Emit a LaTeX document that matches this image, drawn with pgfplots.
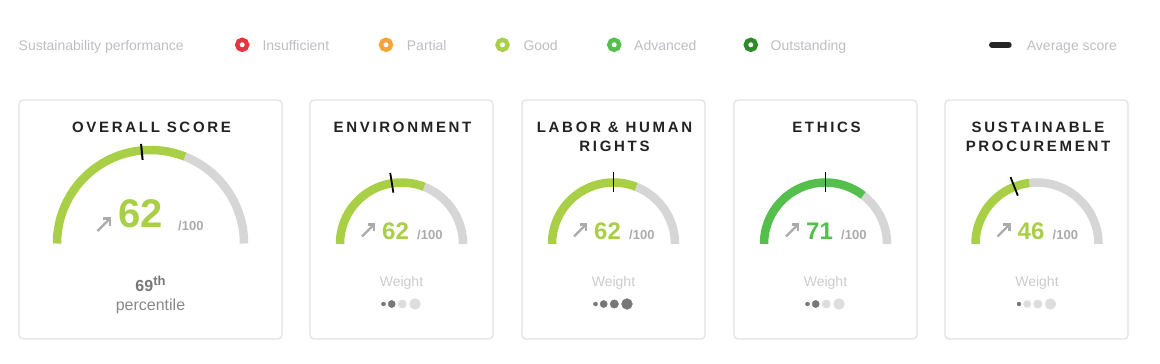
\documentclass[border=0pt]{standalone}
\usepackage{pgfplots}
\pgfplotsset{compat=1.18}
\usepackage{fontspec}
\setmainfont{Liberation Sans}
\newfontfamily\titlefont[LetterSpace=18]{Liberation Sans}
\definecolor{cRed}{HTML}{E8343E}
\definecolor{cOrange}{HTML}{F7A336}
\definecolor{cGood}{HTML}{A8CF45}
\definecolor{cAdv}{HTML}{55BF4E}
\definecolor{cOut}{HTML}{2F8A2A}
\definecolor{cArc}{HTML}{D6D6D6}
\definecolor{cLeg}{HTML}{BDBEC2}
\definecolor{cTitle}{HTML}{222222}
\definecolor{cArrow}{HTML}{ABABAB}
\definecolor{cBorder}{HTML}{E2E2E2}
\definecolor{cDark}{HTML}{777777}
\definecolor{cLight}{HTML}{DDDDDD}
\definecolor{cWeight}{HTML}{CBCBCB}
\definecolor{cPerc}{HTML}{888888}
\newcommand{\fs}[1]{\fontsize{#1}{#1}\selectfont}
\pgfplotsset{gauge/.style={x=1pt,y=1pt,hide axis,anchor=origin,clip=false,
  xmin=-70,xmax=70,ymin=-65,ymax=75},
  arc/.style={line width=8.5pt,line join=round,samples=60,mark=none}}
% weight dots: colours of the four dots
\newcommand{\wdots}[4]{%
 \addplot[only marks,mark=*,color=#1,mark size=2] coordinates {(-18,-60)};
 \addplot[only marks,mark=*,color=#2,mark size=3.6] coordinates {(-9.8,-60)};
 \addplot[only marks,mark=*,color=#3,mark size=4.2] coordinates {(0.8,-60)};
 \addplot[only marks,mark=*,color=#4,mark size=5.4] coordinates {(13.5,-60)};}
% arrow glyph drawn at gauge
\newcommand{\uparrowat}[4]{% x0,y0 (bottom-left), size, head
 \draw[cArrow,line width=2.2pt] (#1,#2) -- ++(#3,-#3);
 \draw[cArrow,line width=2.2pt,line join=miter] (#1+#3-#4,#2-#3) -- (#1+#3,#2-#3) -- (#1+#3,#2-#3+#4);}
\begin{document}
\begin{tikzpicture}[x=1pt,y=-1pt]
\useasboundingbox (0,0) rectangle (1160,364);
\coordinate (G0) at (150.5,243.5);
\coordinate (G1) at (401.5,244);
\coordinate (G2) at (613.5,244);
\coordinate (G3) at (825.5,244);
\coordinate (G4) at (1037,244);
% ---------- legend ----------
\node[anchor=base west,text=cLeg,inner sep=0] at (18.5,50.7) {\fs{14}Sustainability performance};
\draw[cRed,line width=4.4pt] (242.2,44.8) circle[radius=5];
\node[anchor=base west,text=cLeg,inner sep=0] at (262.3,50.7) {\fs{14}Insufficient};
\draw[cOrange,line width=4.4pt] (386,44.8) circle[radius=5];
\node[anchor=base west,text=cLeg,inner sep=0] at (406.7,50.7) {\fs{14}Partial};
\draw[cGood,line width=4.4pt] (502.5,44.8) circle[radius=5];
\node[anchor=base west,text=cLeg,inner sep=0] at (523.3,50.7) {\fs{14}Good};
\draw[cAdv,line width=4.4pt] (614.2,44.8) circle[radius=5];
\node[anchor=base west,text=cLeg,inner sep=0] at (634,50.7) {\fs{14}Advanced};
\draw[cOut,line width=4.4pt] (750.8,44.8) circle[radius=5];
\node[anchor=base west,text=cLeg,inner sep=0] at (770.5,50.7) {\fs{14}Outstanding};
\draw[black!85,line width=6pt,line cap=round] (992,44.7) -- (1008.7,44.7);
\node[anchor=base west,text=cLeg,inner sep=0] at (1026.7,50.7) {\fs{14}Average score};
% ---------- cards ----------
\foreach \a/\b in {19/282,310/493,522/705,734/917,945/1128}
  \draw[cBorder,line width=1.3pt,rounded corners=4pt] (\a,100) rectangle (\b,339);
% ---------- titles ----------
\node[anchor=base,text=cTitle,inner sep=0] at (151.5,132.5) {\titlefont\bfseries\fs{15}OVERALL SCORE};
\node[anchor=base,text=cTitle,inner sep=0] at (402.5,132.5) {\titlefont\bfseries\fs{15}ENVIRONMENT};
\node[anchor=base,text=cTitle,inner sep=0] at (614.5,132.5) {\titlefont\bfseries\fs{15}LABOR \& HUMAN};
\node[anchor=base,text=cTitle,inner sep=0] at (614.5,151.5) {\titlefont\bfseries\fs{15}RIGHTS};
\node[anchor=base,text=cTitle,inner sep=0] at (826.5,132.5) {\titlefont\bfseries\fs{15}ETHICS};
\node[anchor=base,text=cTitle,inner sep=0] at (1038,132.5) {\titlefont\bfseries\fs{15}SUSTAINABLE};
\node[anchor=base,text=cTitle,inner sep=0] at (1038,151.5) {\titlefont\bfseries\fs{15}PROCUREMENT};
% ---------- overall gauge ----------
\begin{axis}[gauge,at={(G0)},xmin=-100,xmax=100,ymin=-5,ymax=102]
 \addplot[arc,cArc,domain=62:100] ({-93.5*cos(1.8*x)},{93.5*sin(1.8*x)});
 \addplot[arc,cGood,domain=0:62] ({-93.5*cos(1.8*x)},{93.5*sin(1.8*x)});
 \addplot[black,line width=2pt,domain=84:100,samples=2] ({-x*cos(1.8*47)},{x*sin(1.8*47)});
\end{axis}
\node[anchor=base,text=cGood,inner sep=0] at (141,227.5) {\bfseries\fs{40}62};
\node[anchor=base west,text=cArrow,inner sep=0] at (178,230.5) {\bfseries\fs{13}/100};
\uparrowat{97.5}{231}{12.5}{7}
\node[anchor=base,text=cDark,inner sep=0] at (150.5,291) {\bfseries\fs{16}69\raisebox{5.5pt}{\fs{13}th}};
\node[anchor=base,text=cPerc,inner sep=0] at (150.5,310.5) {\fs{16}percentile};
% ---------- environment ----------
\begin{axis}[gauge,at={(G1)}]
 \addplot[arc,cArc,domain=62:100] ({-61.5*cos(1.8*x)},{61.5*sin(1.8*x)});
 \addplot[arc,cGood,domain=0:62] ({-61.5*cos(1.8*x)},{61.5*sin(1.8*x)});
 \addplot[black,line width=1.8pt,domain=52:72,samples=2] ({-x*cos(1.8*45)},{x*sin(1.8*45)});
 \wdots{cDark}{cDark}{cLight}{cLight}
\end{axis}
% ---------- labor ----------
\begin{axis}[gauge,at={(G2)}]
 \addplot[arc,cArc,domain=62:100] ({-61.5*cos(1.8*x)},{61.5*sin(1.8*x)});
 \addplot[arc,cGood,domain=0:62] ({-61.5*cos(1.8*x)},{61.5*sin(1.8*x)});
 \addplot[black,line width=1.8pt,domain=52:72,samples=2] ({-x*cos(1.8*50)},{x*sin(1.8*50)});
 \wdots{cDark}{cDark}{cDark}{cDark}
\end{axis}
% ---------- ethics ----------
\begin{axis}[gauge,at={(G3)}]
 \addplot[arc,cArc,domain=71:100] ({-61.5*cos(1.8*x)},{61.5*sin(1.8*x)});
 \addplot[arc,cAdv,domain=0:71] ({-61.5*cos(1.8*x)},{61.5*sin(1.8*x)});
 \addplot[black,line width=1.8pt,domain=52:72,samples=2] ({-x*cos(1.8*50)},{x*sin(1.8*50)});
 \wdots{cDark}{cDark}{cLight}{cLight}
\end{axis}
% ---------- procurement ----------
\begin{axis}[gauge,at={(G4)}]
 \addplot[arc,cArc,domain=46:100] ({-61.5*cos(1.8*x)},{61.5*sin(1.8*x)});
 \addplot[arc,cGood,domain=0:46] ({-61.5*cos(1.8*x)},{61.5*sin(1.8*x)});
 \addplot[black,line width=1.8pt,domain=52:72,samples=2] ({-x*cos(1.8*38)},{x*sin(1.8*38)});
 \wdots{cDark}{cLight}{cLight}{cLight}
\end{axis}
% ---------- small gauge texts ----------
\foreach \cx/\val/\col in {401.5/62/cGood,613.5/62/cGood,825.5/71/cAdv,1037/46/cGood}{
 \node[anchor=base,text=\col,inner sep=0] at (\cx-6,239) {\bfseries\fs{24}\val};
 \node[anchor=base west,text=cArrow,inner sep=0] at (\cx+15.5,239) {\bfseries\fs{13}/100};
 \uparrowat{\cx-39.5}{236.5}{12}{6.5}
 \node[anchor=base,text=cWeight,inner sep=0] at (\cx,286.5) {\fs{14}Weight};
}
\end{tikzpicture}
\end{document}
